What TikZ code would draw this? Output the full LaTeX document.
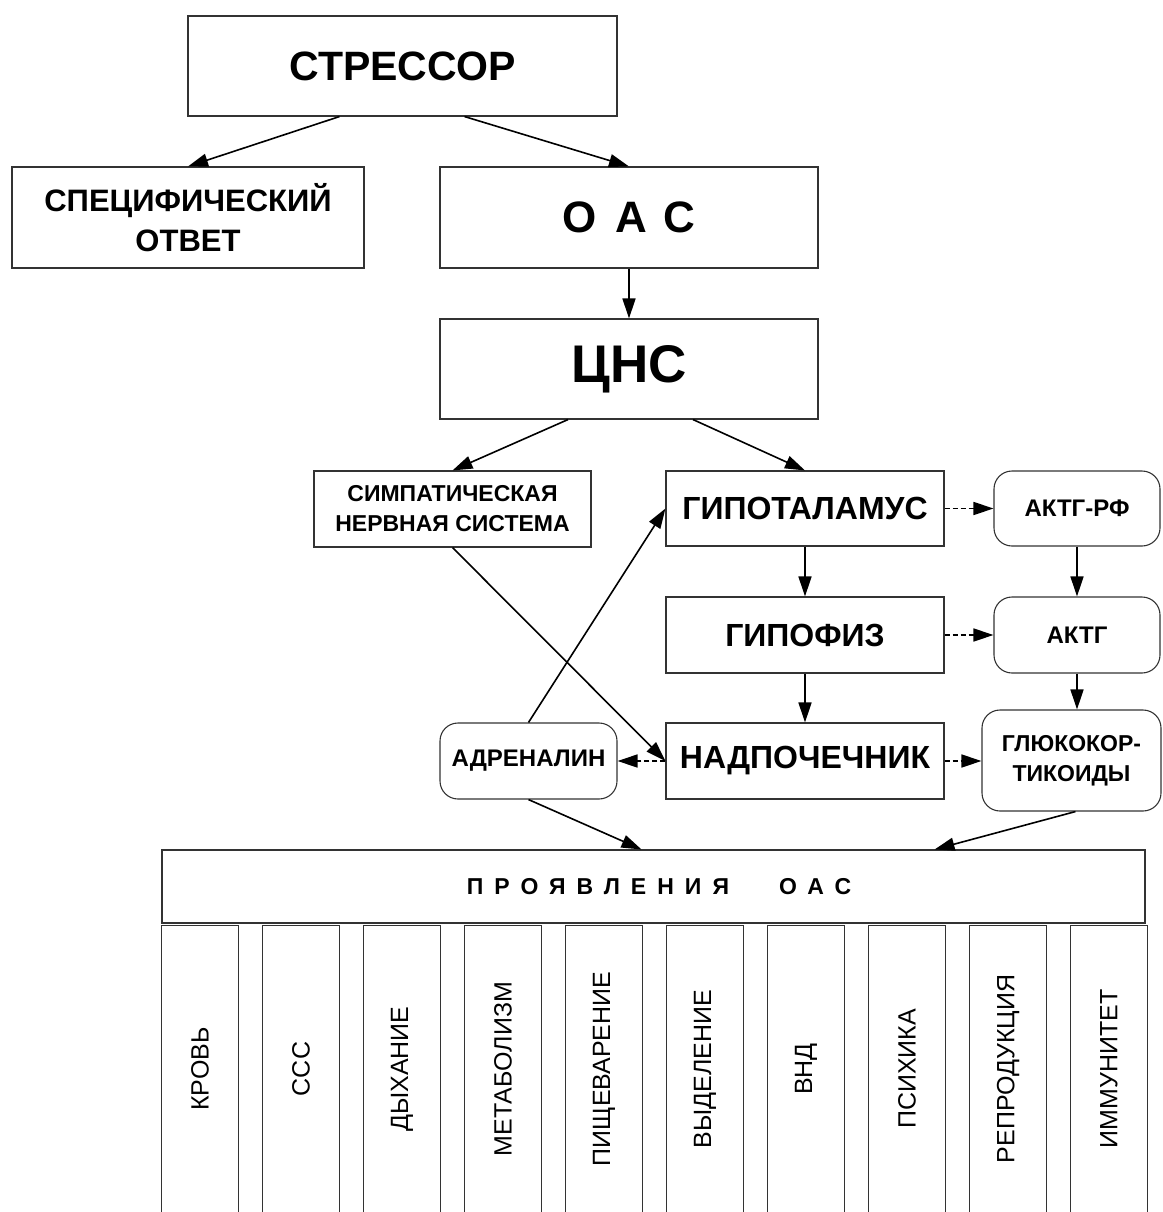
\documentclass[tikz,border=0pt]{standalone}
\usepackage{fontspec}
\setmainfont{Liberation Sans}
\usetikzlibrary{arrows.meta, positioning}
\def\fs#1{\fontsize{#1}{1.3\dimexpr#1pt\relax}\selectfont}

\tikzset{
  box/.style={draw=black!80, line width=1.1pt, inner sep=0pt, align=center},
  hormone/.style={box, rounded corners=18pt},
  colbox/.style={minimum width=76pt, minimum height=286pt, inner sep=0pt},
  arr/.style={line width=1.6pt, -{Triangle[length=20pt,width=13pt]}},
  dotarr/.style={arr, dash pattern=on 5pt off 3pt},
}

\begin{document}
\begin{tikzpicture}[x=1pt, y=-1pt]
  \useasboundingbox (0,0) rectangle (1162,1212);
  % top part
  \node[box, minimum width=429pt, minimum height=100pt, font=\bfseries\fs{41}] (stressor) at (402.5,66) {СТРЕССОР};
  \node[box, minimum width=352pt, minimum height=101pt, font=\bfseries\fs{31}] (spec) at (188,217.5) {СПЕЦИФИЧЕСКИЙ\\ОТВЕТ};
  \node[box, minimum width=378pt, minimum height=101pt, font=\bfseries\fs{44}] (oas) at (629,217.5) {О\hspace{19pt}А\hspace{16pt}С};
  \node[box, minimum width=378pt, minimum height=100pt, font=\bfseries\fs{53}] (cns) at (629,369) {ЦНС};
  % middle part
  \node[box, minimum width=277pt, minimum height=76pt, font=\bfseries\fs{23}] (symp) at (452.5,509) {СИМПАТИЧЕСКАЯ\\НЕРВНАЯ СИСТЕМА};
  \node[box, minimum width=278pt, minimum height=75pt, font=\bfseries\fs{32}] (gipot) at (805,508.5) {ГИПОТАЛАМУС};
  \node[box, minimum width=278pt, minimum height=76pt, font=\bfseries\fs{32}] (gipof) at (805,635) {ГИПОФИЗ};
  \node[box, minimum width=278pt, minimum height=76pt, font=\bfseries\fs{32}] (nadp) at (805,761) {НАДПОЧЕЧНИК};
  \node[hormone, minimum width=166pt, minimum height=75pt, font=\bfseries\fs{24}] (aktgrf) at (1077,508.5) {АКТГ-РФ};
  \node[hormone, minimum width=166pt, minimum height=76pt, font=\bfseries\fs{24}] (aktg) at (1077,635) {АКТГ};
  \node[hormone, minimum width=179pt, minimum height=101pt, font=\bfseries\fs{23}] (gluko) at (1071.5,760.5) {ГЛЮКОКОР-\\ТИКОИДЫ};
  \node[hormone, minimum width=177pt, minimum height=76pt, font=\bfseries\fs{24}] (adren) at (528.5,761) {АДРЕНАЛИН};
  % manifestations
  \node[box, minimum width=983pt, minimum height=73pt, font=\bfseries\fs{23}] (manif) at (653.5,886.5)
    {\addfontfeature{LetterSpace=48}ПРОЯВЛЕНИЯ\hspace{50pt}ОАС\hspace{-11pt}};
  \foreach \i/\name in {0/КРОВЬ, 1/ССС, 2/ДЫХАНИЕ, 3/МЕТАБОЛИЗМ, 4/ПИЩЕВАРЕНИЕ,
                        5/ВЫДЕЛЕНИЕ, 6/ВНД, 7/ПСИХИКА, 8/РЕПРОДУКЦИЯ, 9/ИММУНИТЕТ} {
    \node[colbox] (col\i) at ({200+101*\i},1069) {};
    \draw[draw=black!80, line width=1.1pt] (col\i.south west) |- (col\i.north east) -- (col\i.south east);
    \node[rotate=90, font=\fs{25}] (lab\i) at (col\i) {\name};
  }
  % connectors
  \draw[arr] ([xshift=-63pt]stressor.south) -- (spec.north);
  \draw[arr] ([xshift=62pt]stressor.south) -- (oas.north);
  \draw[arr] (oas.south) -- (cns.north);
  \draw[arr] ([xshift=-61pt]cns.south) -- (symp.north);
  \draw[arr] ([xshift=64pt]cns.south) -- (gipot.north);
  \draw[arr] (gipot.south) -- (gipof.north);
  \draw[arr] (gipof.south) -- (nadp.north);
  \draw[arr] (aktgrf.south) -- (aktg.north);
  \draw[arr] (aktg.south) -- (aktg.south |- gluko.north);
  \draw[dotarr] (gipot.east) -- (aktgrf.west);
  \draw[dotarr] (gipof.east) -- (aktg.west);
  \draw[dotarr] (nadp.east) -- (gluko.west |- nadp.east);
  \draw[dotarr] (nadp.west) -- (adren.east);
  \draw[arr] (symp.south) -- (nadp.west);
  \draw[arr] (adren.north) -- (gipot.west);
  \draw[arr] (adren.south) -- ([xshift=-12pt]manif.north);
  \draw[arr] ([xshift=4pt]gluko.south) -- ([xshift=281pt]manif.north);
\end{tikzpicture}
\end{document}
